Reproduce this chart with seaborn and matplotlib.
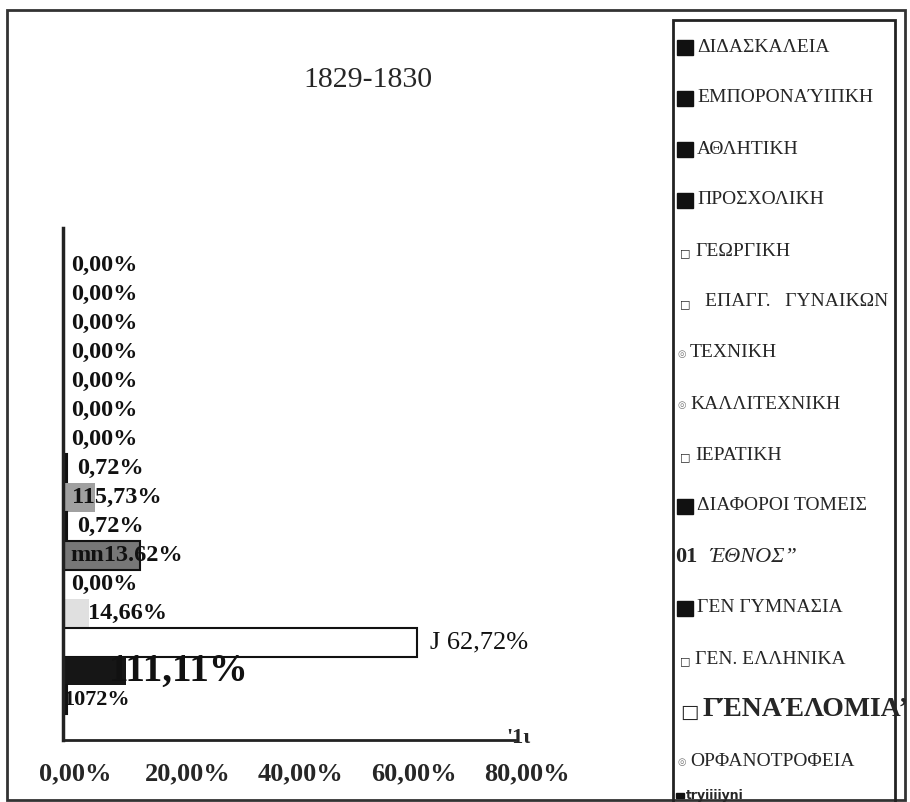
import matplotlib
matplotlib.use('Agg')
import matplotlib.pyplot as plt
import matplotlib.transforms as mtransforms
from matplotlib.patches import Rectangle
import seaborn as sns

# 1829-1830: share per school type (bars top to bottom = legend top to bottom)
categories = ['ΔΙΔΑΣΚΑΛΕΙΑ', 'ΕΜΠΟΡΟΝΑΎΙΠΚΗ', 'ΑΘΛΗΤΙΚΗ', 'ΠΡΟΣΧΟΛΙΚΗ', 'ΓΕΩΡΓΙΚΗ',
              'ΕΠΑΓΓ.   ΓΥΝΑΙΚΩΝ', 'ΤΕΧΝΙΚΗ', 'ΚΑΛΛΙΤΕΧΝΙΚΗ', 'ΙΕΡΑΤΙΚΗ', 'ΔΙΑΦΟΡΟΙ ΤΟΜΕΙΣ',
              'ΈΘΝΟΣ”', 'ΓΕΝ ΓΥΜΝΑΣΙΑ', 'ΓΕΝ. ΕΛΛΗΝΙΚΑ', 'ΓΈΝΑΈΛΟΜΙΑ’', 'ΟΡΦΑΝΟΤΡΟΦΕΙΑ', 'tryiiiiyni']
values = [0, 0, 0, 0, 0, 0, 0, 0.72, 5.73, 0.72, 13.62, 0, 4.66, 62.72, 11.11, 0.72]
bar_labels = ['0,00%'] * 7 + ['0,72%', '115,73%', '0,72%', 'mn13.62%', '0,00%',
                              '14,66%', 'J 62,72%', '111,11%', '1072%']
x_ticks = [0, 20, 40, 60, 80]
x_tick_labels = ['0,00%', '20,00%', '40,00%', '60,00%', '80,00%']
title = '1829-1830'

# styling
bar_colors = ['#111111'] * 4 + ['white', 'white', '#999999', '#111111', '#a0a0a0', '#111111',
                                '#777777', 'white', '#e0e0e0', 'white', '#161616', '#111111']
bar_edges = ['#111111'] * 8 + ['none', '#111111', '#111111', '#111111', 'none',
                               '#111111', 'none', '#111111']
marker_kind = ['sq'] * 4 + ['box', 'box', 'ring', 'ring', 'box', 'sq',
                            'num', 'sq', 'box', 'box', 'ring', 'sq']
label_dx = [8] * 7 + [10, -23, 10, -70, 8, -1, 13, -17, -4]  # pixels from bar end
label_size = [17.5] * 7 + [17.5, 17.5, 17.5, 17.5, 17.5, 17.5, 19, 28, 16]
label_weight = ['bold'] * 13 + ['normal', 'semibold', 'bold']

sns.set_style('white')
plt.rcParams['font.family'] = ['Liberation Serif', 'DejaVu Sans']

W, H = 910, 802
fig = plt.figure(figsize=(W / 100, H / 100), dpi=100)
ax = fig.add_axes([63 / W, 62 / H, 452 / W, 512 / H])

sns.barplot(x=values, y=categories, hue=categories, palette=bar_colors, dodge=False,
            legend=False, width=1.0, edgecolor='black', linewidth=1.5, orient='h', ax=ax)
for bar, ec in zip(ax.patches, bar_edges):
    bar.set_edgecolor(ec)

ax.set_xlim(0, 80)
ax.set_ylim(16.38, -1.28)
ax.set_xticks(x_ticks)
ax.set_xticklabels(x_tick_labels, fontsize=19, fontweight='bold')
ax.set_yticks([])
ax.set_xlabel('')
ax.set_ylabel('')
ax.tick_params(axis='x', direction='out', length=5, width=2, pad=11, color='#222222')
# the scanned tick labels sit a little right of their ticks
shift = mtransforms.ScaledTranslation(12 / 100, 0, fig.dpi_scale_trans)
for t in ax.get_xticklabels():
    t.set_transform(t.get_transform() + shift)
for s in ['top', 'right']:
    ax.spines[s].set_visible(False)
ax.spines['left'].set_linewidth(2.5)
ax.spines['bottom'].set_linewidth(2)
ax.spines['left'].set_color('#222222')
ax.spines['bottom'].set_color('#222222')

for i, (v, lab) in enumerate(zip(values, bar_labels)):
    ax.annotate(lab, xy=(v, i), xytext=(label_dx[i], 0), textcoords='offset pixels',
                ha='left', va='center', fontsize=label_size[i], fontweight=label_weight[i],
                color='#111111')

fig.text(368 / W, 1 - 80 / H, title, ha='center', va='center', fontsize=21.5)
fig.text(506 / W, 1 - 738 / H, "'1ι", ha='left', va='center', fontsize=16, fontweight='bold')


def fy(py):
    return 1 - py / H


# outer frame of the scanned page
fig.add_artist(Rectangle((7 / W, fy(800)), 898 / W, 790 / H, transform=fig.transFigure,
                         fill=False, edgecolor='#333333', linewidth=2))
# legend box
fig.add_artist(Rectangle((673 / W, fy(805)), 222 / W, 785 / H, transform=fig.transFigure,
                         fill=False, edgecolor='#222222', linewidth=2))

for i, name in enumerate(categories):
    y = 47 + 51 * i
    kind = marker_kind[i]
    if kind == 'sq':
        if i < 15:
            fig.add_artist(Rectangle((677 / W, fy(y + 8)), 16 / W, 15 / H,
                                     transform=fig.transFigure, color='#111111'))
            fig.text(697 / W, fy(y), name, ha='left', va='center', fontsize=14)
        else:
            fig.add_artist(Rectangle((676 / W, fy(798)), 8 / W, 5 / H,
                                     transform=fig.transFigure, color='#111111'))
            fig.text(686 / W, fy(796), name, ha='left', va='center', fontsize=9,
                     fontweight='bold', family='DejaVu Sans')
    elif kind == 'box':
        big = name.startswith('ΓΈΝΑ')
        fig.text(680 / W, fy(y + 2), '□', ha='left', va='center',
                 fontsize=14 if big else 8, fontweight='bold' if big else 'normal',
                 family='DejaVu Sans')
        x0 = 703 if big else (705 if 'ΕΠΑΓΓ' in name else 695)
        fig.text(x0 / W, fy(y), name, ha='left', va='center',
                 fontsize=20 if big else 14, fontweight='bold' if big else 'normal')
    elif kind == 'ring':
        fig.text(678 / W, fy(y + 1), '◎', ha='left', va='center', fontsize=7,
                 color='#777777', family='DejaVu Sans')
        fig.text(690 / W, fy(y), name, ha='left', va='center', fontsize=14)
    else:
        fig.text(675 / W, fy(y), '01', ha='left', va='center', fontsize=16, fontweight='bold')
        fig.text(709 / W, fy(y), name, ha='left', va='center', fontsize=16, style='italic')

fig.savefig('out.png', dpi=100)
